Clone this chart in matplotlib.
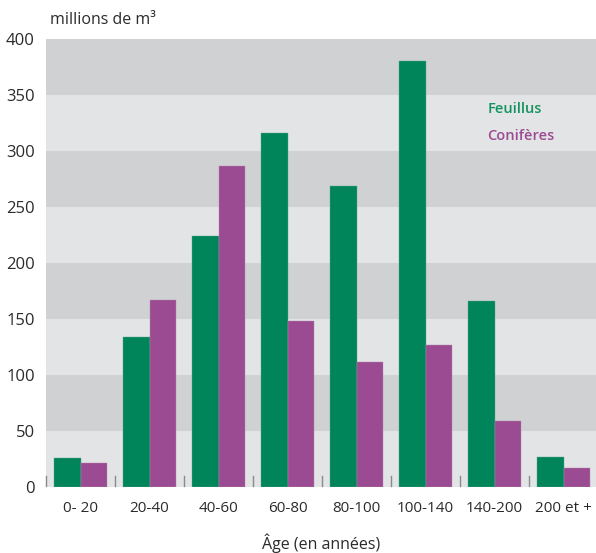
import matplotlib
matplotlib.use("Agg")
import matplotlib.pyplot as plt
import numpy as np

categories = ["0- 20", "20-40", "40-60", "60-80", "80-100", "100-140", "140-200", "200 et +"]
feuillus = [26, 134, 224, 316, 269, 380, 166, 27]
coniferes = [21, 167, 287, 148, 112, 127, 59, 17]
yticks = [0, 50, 100, 150, 200, 250, 300, 350, 400]

plt.rcParams['font.family'] = ['Open Sans', 'DejaVu Sans']

W, H = 596, 553
fig = plt.figure(figsize=(W / 100, H / 100), dpi=100)
ax = fig.add_axes([46 / W, 1 - 487 / H, 1 - 46 / W, (487 - 39) / H])

green = "#00845a"
purple = "#9b4b92"
dark = "#d0d1d3"
light = "#e3e4e6"
txt = "#2b2b2b"

ax.set_xlim(-0.5, 7.47)
ax.set_ylim(0, 400)

for i in range(len(yticks) - 1):
    ax.axhspan(yticks[i], yticks[i + 1], color=light if i % 2 == 0 else dark, zorder=0, lw=0)

x = np.arange(len(categories))
bw = 0.39
ax.bar(x - bw / 2, feuillus, bw, color=green, zorder=2, edgecolor="#5fae90", linewidth=0.3)
ax.bar(x + bw / 2, coniferes, bw, color=purple, zorder=2, edgecolor="#b788b0", linewidth=0.3)

for s in ax.spines.values():
    s.set_visible(False)

ax.set_yticks(yticks)
ax.set_yticklabels([str(v) for v in yticks], fontsize=12, color=txt)
ax.tick_params(axis='y', length=0, pad=8)

ax.set_xticks(x)
ax.set_xticklabels(categories, fontsize=11, color=txt, fontweight='medium')
ax.tick_params(axis='x', length=0, pad=10)

# small separators between groups
for b in np.arange(-0.5, 7.0, 1.0):
    ax.plot([b, b], [1, 10], color="#8a8a8a", lw=1.0, zorder=3, clip_on=False)

fig.text(50 / W, 1 - 24 / H, "millions de m³", fontsize=11.5, color=txt, va='baseline', ha='left')
fig.text(321 / W, 1 - 549 / H, "Âge (en années)", fontsize=11.5, color=txt, va='baseline', ha='center')

fig.text(488 / W, 1 - 113 / H, "Feuillus", fontsize=10.5, color="#14935f", va='baseline', ha='left', fontweight='semibold')
fig.text(487 / W, 1 - 140 / H, "Conifères", fontsize=10.5, color=purple, va='baseline', ha='left', fontweight='semibold')

fig.savefig("out.png", dpi=100)
